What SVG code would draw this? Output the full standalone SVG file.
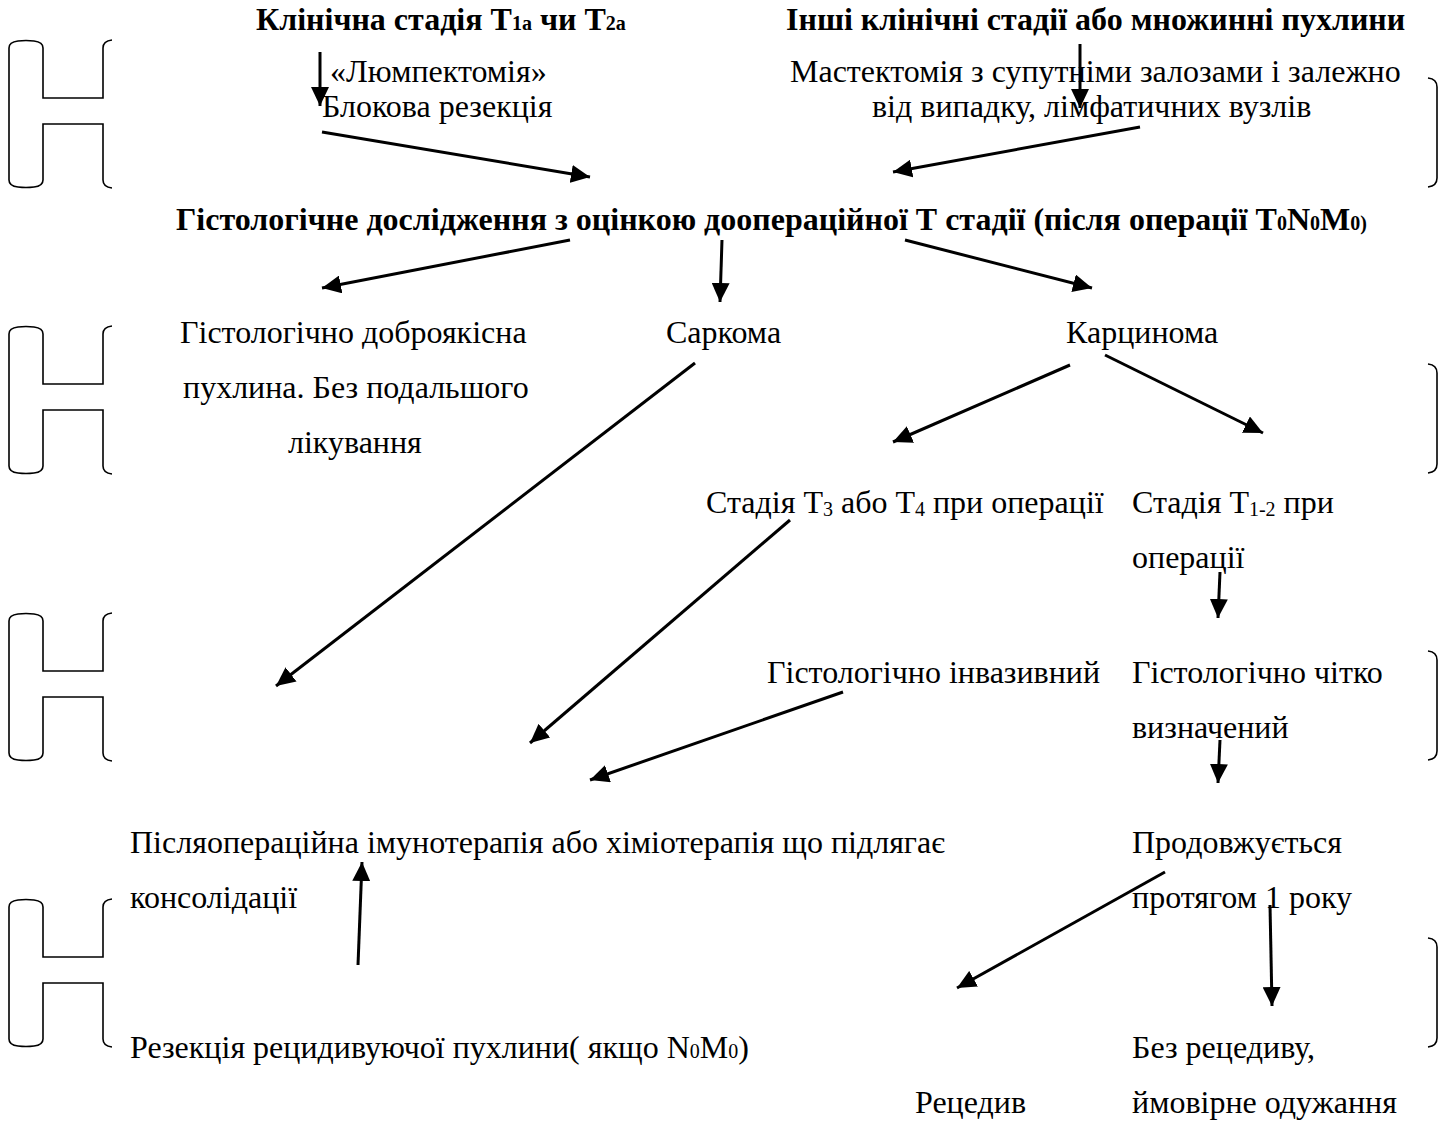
<svg xmlns="http://www.w3.org/2000/svg" width="1455" height="1121" viewBox="0 0 1455 1121">
<defs>
<style>
text{font-family:"Liberation Serif","Times New Roman",serif;font-size:32px;fill:#000}
.b{font-weight:bold}
.sub{font-size:20px}
.br{fill:none;stroke:#000;stroke-width:1.6}
.ar{fill:none;stroke:#000;stroke-width:3;marker-end:url(#ah)}
</style>
<marker id="ah" markerUnits="userSpaceOnUse" markerWidth="22" markerHeight="18" refX="19" refY="9" orient="auto">
<path d="M0,0 L19,9 L0,18 Z" fill="#000"/>
</marker>
<path id="lb" d="M112,0 Q103,1 103,8 V58 H43 V8 Q43,2 34,1 Q26,0 18,1 Q9,2 9,8 V140 Q9,146 18,147 Q26,148 34,147 Q43,146 43,140 V84 H103 V140 Q103,147 112,148"/>
<path id="rb" d="M1428,0 Q1437,1 1437,9 V100 Q1437,108 1428,109"/>
</defs>
<rect width="1455" height="1121" fill="#fff"/>
<g id="brackets">
<use href="#lb" class="br" y="40"/>
<use href="#lb" class="br" y="326"/>
<use href="#lb" class="br" y="613"/>
<use href="#lb" class="br" y="899"/>
<use href="#rb" class="br" y="78"/>
<use href="#rb" class="br" y="364"/>
<use href="#rb" class="br" y="651"/>
<use href="#rb" class="br" y="938"/>
</g>
<g id="n1"><text class="b" x="256" y="30">Клінічна стадія Т<tspan class="sub">1а</tspan> чи Т<tspan class="sub">2а</tspan></text></g>
<g id="n2"><text class="b" x="786" y="30">Інші клінічні стадії або множинні пухлини</text></g>
<g id="n3"><text x="330" y="82">«Люмпектомія»</text><text x="322" y="117">Блокова резекція</text></g>
<g id="n4"><text x="790" y="82">Мастектомія з супутніми залозами і залежно</text><text x="872" y="117">від випадку, лімфатичних вузлів</text></g>
<g id="n5"><text class="b" x="176" y="230">Гістологічне дослідження з оцінкою доопераційної Т стадії (після операції Т<tspan class="sub">0</tspan>N<tspan class="sub">0</tspan>M<tspan class="sub">0)</tspan></text></g>
<g id="n6"><text x="180" y="343">Гістологічно доброякісна</text><text x="183" y="398">пухлина. Без подальшого</text><text x="288" y="453">лікування</text></g>
<g id="n7"><text x="666" y="343">Саркома</text></g>
<g id="n8"><text x="1066" y="343">Карцинома</text></g>
<g id="n9"><text x="706" y="513">Стадія Т<tspan class="sub" dy="3">3</tspan><tspan dy="-3"> або Т</tspan><tspan class="sub" dy="3">4</tspan><tspan dy="-3"> при операції</tspan></text></g>
<g id="n10"><text x="1132" y="513">Стадія Т<tspan class="sub" dy="3">1-2</tspan><tspan dy="-3"> при</tspan></text><text x="1132" y="568">операції</text></g>
<g id="n11"><text x="767" y="683">Гістологічно інвазивний</text></g>
<g id="n12"><text x="1132" y="683">Гістологічно чітко</text><text x="1132" y="738">визначений</text></g>
<g id="n13"><text x="130" y="853">Післяопераційна імунотерапія або хіміотерапія що підлягає</text><text x="130" y="908">консолідації</text></g>
<g id="n14"><text x="1132" y="853">Продовжується</text><text x="1132" y="908">протягом 1 року</text></g>
<g id="n15"><text x="130" y="1058">Резекція рецидивуючої пухлини( якщо N<tspan class="sub">0</tspan>M<tspan class="sub">0</tspan>)</text></g>
<g id="n16"><text x="1132" y="1058">Без рецедиву,</text><text x="1132" y="1113">ймовірне одужання</text></g>
<g id="n17"><text x="915" y="1113">Рецедив</text></g>
<g id="connectors">
<line class="ar" x1="320" y1="52" x2="320" y2="106"/>
<line class="ar" x1="1080" y1="44" x2="1080" y2="108"/>
<line class="ar" x1="322" y1="132" x2="590" y2="177"/>
<line class="ar" x1="1140" y1="127" x2="893" y2="172"/>
<line class="ar" x1="570" y1="240" x2="322" y2="288"/>
<line class="ar" x1="722" y1="240" x2="720" y2="302"/>
<line class="ar" x1="905" y1="240" x2="1092" y2="288"/>
<line class="ar" x1="695" y1="363" x2="276" y2="686"/>
<line class="ar" x1="1070" y1="365" x2="893" y2="442"/>
<line class="ar" x1="1105" y1="355" x2="1263" y2="433"/>
<line class="ar" x1="790" y1="520" x2="530" y2="743"/>
<line class="ar" x1="1220" y1="572" x2="1218" y2="618"/>
<line class="ar" x1="843" y1="692" x2="590" y2="780"/>
<line class="ar" x1="1220" y1="740" x2="1218" y2="783"/>
<line class="ar" x1="358" y1="965" x2="362" y2="862"/>
<line class="ar" x1="1165" y1="872" x2="957" y2="988"/>
<line class="ar" x1="1270" y1="905" x2="1272" y2="1006"/>
</g>
</svg>
